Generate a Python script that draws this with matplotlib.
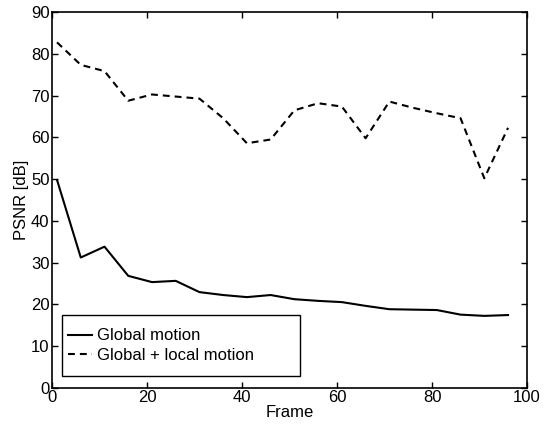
import numpy as np
import matplotlib
matplotlib.use("Agg")
import matplotlib.pyplot as plt
from matplotlib.patches import Rectangle

plt.rcParams['font.family'] = ['Liberation Sans', 'DejaVu Sans']
plt.rcParams['font.size'] = 12

# frame numbers
frames = [1, 6, 11, 16, 21, 26, 31, 36, 41, 46, 51, 56, 61, 66, 71, 76, 81, 86, 91, 96]

# PSNR values [dB]
global_motion = [49.8, 31.2, 33.8, 26.8, 25.3, 25.6, 22.9, 22.2, 21.7, 22.2,
                 21.2, 20.8, 20.5, 19.6, 18.8, 18.7, 18.6, 17.5, 17.2, 17.4]
global_local = [82.8, 77.4, 75.9, 68.8, 70.3, 69.8, 69.3, 64.6, 58.6, 59.5,
                66.5, 68.2, 67.4, 59.8, 68.6, 67.1, 65.8, 64.6, 50.2, 62.3]

fig = plt.figure(figsize=(5.55, 4.25), dpi=100)
ax = fig.add_axes([0.0942, 0.088, 0.8554, 0.883])

ax.plot(frames, global_motion, color='black', linewidth=1.5, label='Global motion')
ax.plot(frames, global_local, color='black', linewidth=1.5, dashes=(3.3, 2.4),
        label='Global + local motion')

ax.set_xlim(0, 100)
ax.set_ylim(0, 90)
ax.set_xticks(np.arange(0, 101, 20))
ax.set_yticks(np.arange(0, 91, 10))
ax.tick_params(direction='in', top=True, right=True, length=4, width=1, pad=2)
for s in ax.spines.values():
    s.set_linewidth(1.2)

ax.set_xlabel('Frame', labelpad=0)
ax.set_ylabel('PSNR [dB]', labelpad=1)

# legend box drawn separately (matlab style: wide box, text on the left)
box = Rectangle((0.021, 0.031), 0.501, 0.162, transform=ax.transAxes,
                facecolor='white', edgecolor='black', linewidth=1.0, zorder=4)
ax.add_patch(box)
leg = ax.legend(loc='center left', bbox_to_anchor=(0.021, 0.112),
                borderaxespad=0, frameon=False, handlelength=1.45,
                handletextpad=0.3, borderpad=0.35, labelspacing=0.25)
leg.set_zorder(5)

fig.savefig('out.png', dpi=100)
